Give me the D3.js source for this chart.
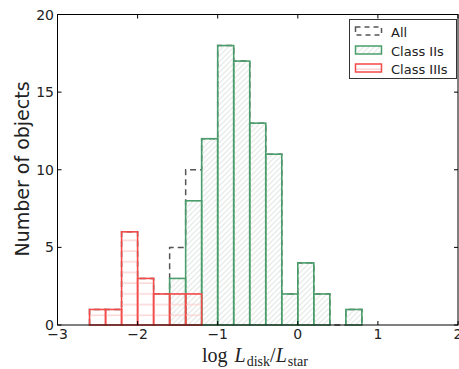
<!DOCTYPE html>
<html><head><meta charset="utf-8">
<script src="https://cdn.jsdelivr.net/npm/d3@7"></script>
<style>body{margin:0;background:#fff}svg{display:block}</style>
</head><body>
<script>
// Data
const binEdges = [-2.6,-2.4,-2.2,-2.0,-1.8,-1.6,-1.4,-1.2,-1.0,-0.8,-0.6,-0.4,-0.2,0.0,0.2,0.4,0.6,0.8];
const classII  = [0,0,0,0,0,3,8,12,18,17,13,11,2,4,2,0,1];
const classIII = [1,1,6,3,2,2,2,0,0,0,0,0,0,0,0,0,0];
const allObj = classII.map((v,i)=>v+classIII[i]);
const xTicks = [-3,-2,-1,0,1,2];
const yTicks = [0,5,10,15,20];

const W=459,H=369;
const svg=d3.select("body").append("svg").attr("width",W).attr("height",H);
const x=d3.scaleLinear().domain([-3,2]).range([57.5,458]);
const y=d3.scaleLinear().domain([0,20]).range([325,14.5]);

const defs=svg.append("defs");
const s=5.4;
const pg=defs.append("pattern").attr("id","hg").attr("patternUnits","userSpaceOnUse")
  .attr("width",s).attr("height",s);
pg.append("path").attr("d",`M-1,${s+1} L${s+1},-1 M-1,1 L1,-1 M${s-1},${s+1} L${s+1},${s-1}`)
  .attr("stroke","#dde3de").attr("stroke-width",1);
const pr=defs.append("pattern").attr("id","hr").attr("patternUnits","userSpaceOnUse")
  .attr("width",10).attr("height",10.7);
pr.append("path").attr("d","M0,5 L10,5").attr("stroke","#fcd3d3").attr("stroke-width",1.4);

const green="#4a9e6b", red="#f34a4a";

// All: step outline dashed
let pts=[[x(binEdges[0]),y(0)]];
allObj.forEach((v,i)=>{pts.push([x(binEdges[i]),y(v)]);pts.push([x(binEdges[i+1]),y(v)]);});
pts.push([x(binEdges[binEdges.length-1]),y(0)]);
svg.append("path").attr("d",d3.line()(pts)).attr("fill","none").attr("stroke","#555")
  .attr("stroke-width",1.5).attr("stroke-dasharray","6,4");

function bars(data,fillId,color){
  const g=svg.append("g");
  data.forEach((v,i)=>{
    if(v<=0) return;
    const x0=x(binEdges[i]),x1=x(binEdges[i+1]);
    g.append("rect").attr("x",x0).attr("y",y(v)).attr("width",x1-x0).attr("height",y(0)-y(v))
      .attr("fill","url(#"+fillId+")").attr("stroke",color).attr("stroke-width",1.6);
  });
}
bars(classII,"hg",green);
bars(classIII,"hr",red);

// frame
svg.append("rect").attr("x",x(-3)).attr("y",y(20)).attr("width",x(2)-x(-3)).attr("height",y(0)-y(20))
  .attr("fill","none").attr("stroke","#000").attr("stroke-width",1);

// ticks inward
const tl=4;
const ax=svg.append("g").attr("stroke","#000").attr("stroke-width",1);
xTicks.forEach(t=>{
  ax.append("line").attr("x1",x(t)).attr("x2",x(t)).attr("y1",y(0)).attr("y2",y(0)-tl);
  ax.append("line").attr("x1",x(t)).attr("x2",x(t)).attr("y1",y(20)).attr("y2",y(20)+tl);
});
yTicks.forEach(t=>{
  ax.append("line").attr("x1",x(-3)).attr("x2",x(-3)+tl).attr("y1",y(t)).attr("y2",y(t));
  ax.append("line").attr("x1",x(2)).attr("x2",x(2)-tl).attr("y1",y(t)).attr("y2",y(t));
});
const fam="DejaVu Sans, sans-serif";
svg.append("g").selectAll("text").data(xTicks).join("text")
  .attr("x",d=>x(d)).attr("y",339).attr("text-anchor","middle").attr("font-family",fam)
  .attr("font-size",14).attr("fill","#222").text(d=>d<0?"\u2212"+(-d):d);
svg.append("g").selectAll("text").data(yTicks).join("text")
  .attr("x",54).attr("y",d=>y(d)+5).attr("text-anchor","end").attr("font-family",fam)
  .attr("font-size",14).attr("fill","#222").text(d=>d);

svg.append("text").attr("transform","translate(28.5,169) rotate(-90)").attr("text-anchor","middle")
  .attr("font-family",fam).attr("font-size",19).attr("fill","#222").text("Number of objects");

const xl=svg.append("text").attr("x",255).attr("y",362).attr("text-anchor","middle")
  .attr("font-family","Liberation Serif, DejaVu Serif, serif").attr("font-size",20).attr("fill","#222");
xl.append("tspan").text("log");
xl.append("tspan").attr("dx",7).attr("font-style","italic").text("L");
xl.append("tspan").attr("font-size",14).attr("dy",3.5).attr("dx",1).text("disk");
xl.append("tspan").attr("dy",-3.5).text("/");
xl.append("tspan").attr("font-style","italic").text("L");
xl.append("tspan").attr("font-size",14).attr("dy",3.5).attr("dx",1).text("star");

// legend
const lg=svg.append("g");
lg.append("rect").attr("x",349.5).attr("y",19.5).attr("width",107).attr("height",59)
  .attr("fill","#fff").attr("stroke","#333").attr("stroke-width",1);
const items=[["All","none","#555","5,4",27],["Class IIs","url(#hg)",green,null,46],["Class IIIs","url(#hr)",red,null,64]];
items.forEach(([t,f,c,da,yy])=>{
  const r=lg.append("rect").attr("x",355.5).attr("y",yy).attr("width",26).attr("height",8)
    .attr("fill",f).attr("stroke",c).attr("stroke-width",1.5);
  if(da) r.attr("stroke-dasharray",da);
  lg.append("text").attr("x",391).attr("y",yy+9.5).attr("font-family",fam).attr("font-size",13)
    .attr("fill","#222").text(t);
});
</script>
</body></html>
